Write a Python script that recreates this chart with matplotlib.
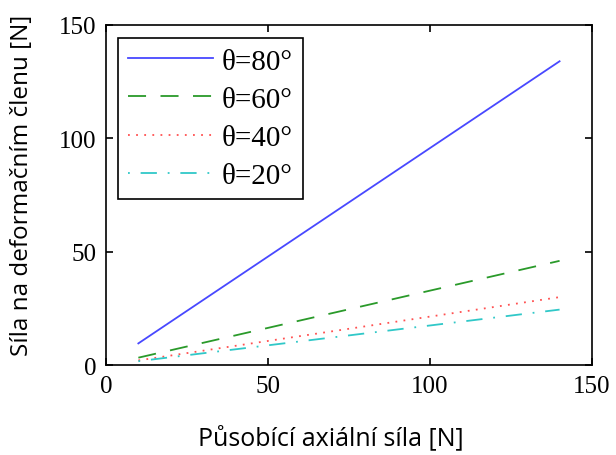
import matplotlib.pyplot as plt
import numpy as np

# axial force range and resulting force on the deformation member
sila = [10, 140]
theta_80 = [9.6, 134]
theta_60 = [3.3, 46]
theta_40 = [2.1, 30]
theta_20 = [1.75, 24.5]
labels = ["θ=80°", "θ=60°", "θ=40°", "θ=20°"]

fig = plt.figure(figsize=(6.16, 4.56), dpi=100)
ax = fig.add_axes([0.172, 0.197, 0.789, 0.746])

ax.plot(sila, theta_80, color="#4848ff", lw=1.3, ls="-", label=labels[0])
ax.plot(sila, theta_60, color="#2a9a2a", lw=1.3, ls=(0, (10, 8)), label=labels[1])
ax.plot(sila, theta_40, color="#ff5050", lw=1.3, ls=(0, (1, 3.5)), label=labels[2])
ax.plot(sila, theta_20, color="#30c8c8", lw=1.3, ls=(0, (1, 6, 9, 6)), label=labels[3])

ax.set_xlim(0, 150)
ax.set_ylim(0, 150)
ax.set_xticks([0, 50, 100, 150])
ax.set_yticks([0, 50, 100, 150])
ax.tick_params(direction="in", top=True, right=True, length=5, width=1.2,
               labelsize=18, pad=7)
for lab in ax.get_xticklabels() + ax.get_yticklabels():
    lab.set_family("Liberation Serif")
for s in ax.spines.values():
    s.set_linewidth(1.2)

ax.set_xlabel("Působící axiální síla [N]", family="Open Sans", fontsize=18, labelpad=20)
ax.set_ylabel("Síla na deformačním členu [N]", family="Open Sans", fontsize=17.5, labelpad=18)
ax.xaxis.label.set_x(0.463)
ax.yaxis.label.set_y(0.532)

leg = ax.legend(loc="upper left", prop={"family": "Liberation Serif", "size": 21},
                handlelength=2.9, handletextpad=0.3, borderpad=0.35, labelspacing=0.4,
                borderaxespad=0, fancybox=False, edgecolor="black", framealpha=1,
                bbox_to_anchor=(0.025, 0.962))
leg.get_frame().set_linewidth(1.2)

fig.savefig("out.png", dpi=100)
